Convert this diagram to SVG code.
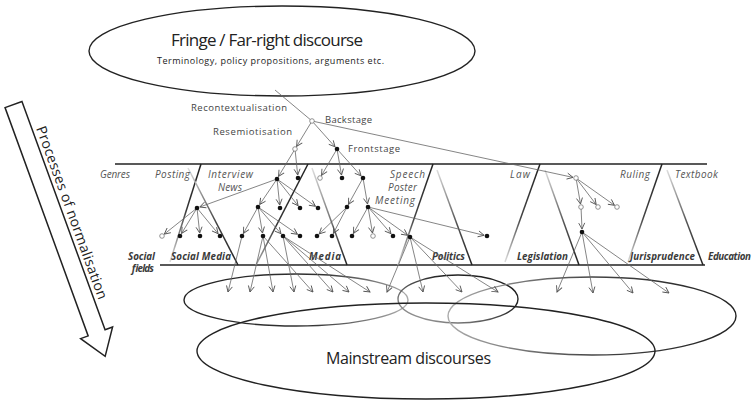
<svg xmlns="http://www.w3.org/2000/svg" width="753" height="402" viewBox="0 0 753 402">
<style>
text{font-family:"Open Sans","Liberation Sans",sans-serif;}
.lbl{font-size:9.5px;fill:#444;}
.gen{font-size:10px;font-style:italic;fill:#555;}
.fld{font-size:9.8px;font-style:italic;font-weight:bold;fill:#3a3a3a;}
.f{fill:#111;}
.h{fill:#fff;stroke:#777;stroke-width:0.8;}
.c line{stroke:#666;stroke-width:0.8;marker-end:url(#ah);}
.bar{stroke:#222;stroke-width:1.6;}
.ell{fill:none;stroke-width:1.4;}
</style>
<defs>
<marker id="ah" markerWidth="8" markerHeight="8" refX="7" refY="4" orient="auto" markerUnits="userSpaceOnUse"><path d="M1,1 L7,4 L1,7" fill="none" stroke="#555" stroke-width="0.9"/></marker>
<linearGradient id="gA1" gradientUnits="userSpaceOnUse" x1="201" y1="164" x2="170" y2="262"><stop offset="0" stop-color="#222"/><stop offset="0.45" stop-color="#333"/><stop offset="1" stop-color="#ddd"/></linearGradient>
<linearGradient id="gA2" gradientUnits="userSpaceOnUse" x1="188" y1="168" x2="238" y2="265"><stop offset="0" stop-color="#ddd"/><stop offset="0.55" stop-color="#444"/><stop offset="1" stop-color="#222"/></linearGradient>
<linearGradient id="gB1" gradientUnits="userSpaceOnUse" x1="308" y1="164" x2="256" y2="265"><stop offset="0" stop-color="#222"/><stop offset="0.6" stop-color="#333"/><stop offset="1" stop-color="#aaa"/></linearGradient>
<linearGradient id="gB2" gradientUnits="userSpaceOnUse" x1="312" y1="168" x2="347" y2="265"><stop offset="0" stop-color="#ddd"/><stop offset="0.6" stop-color="#666"/><stop offset="1" stop-color="#222"/></linearGradient>
<linearGradient id="gC1" gradientUnits="userSpaceOnUse" x1="433" y1="164" x2="398" y2="265"><stop offset="0" stop-color="#222"/><stop offset="0.55" stop-color="#444"/><stop offset="1" stop-color="#ddd"/></linearGradient>
<linearGradient id="gC2" gradientUnits="userSpaceOnUse" x1="437" y1="170" x2="472" y2="265"><stop offset="0" stop-color="#ddd"/><stop offset="0.55" stop-color="#555"/><stop offset="1" stop-color="#222"/></linearGradient>
<linearGradient id="gD1" gradientUnits="userSpaceOnUse" x1="540" y1="164" x2="505" y2="262"><stop offset="0" stop-color="#222"/><stop offset="0.55" stop-color="#444"/><stop offset="1" stop-color="#ddd"/></linearGradient>
<linearGradient id="gD2" gradientUnits="userSpaceOnUse" x1="545" y1="170" x2="579" y2="265"><stop offset="0" stop-color="#ddd"/><stop offset="0.55" stop-color="#555"/><stop offset="1" stop-color="#222"/></linearGradient>
<linearGradient id="gE1" gradientUnits="userSpaceOnUse" x1="662" y1="164" x2="628" y2="262"><stop offset="0" stop-color="#222"/><stop offset="0.55" stop-color="#444"/><stop offset="1" stop-color="#ddd"/></linearGradient>
<linearGradient id="gE2" gradientUnits="userSpaceOnUse" x1="667" y1="170" x2="703" y2="265"><stop offset="0" stop-color="#ddd"/><stop offset="0.55" stop-color="#555"/><stop offset="1" stop-color="#222"/></linearGradient>
<linearGradient id="eL" gradientUnits="userSpaceOnUse" x1="190" y1="275" x2="400" y2="326"><stop offset="0" stop-color="#222"/><stop offset="0.6" stop-color="#333"/><stop offset="1" stop-color="#aaa"/></linearGradient>
<linearGradient id="eM" gradientUnits="userSpaceOnUse" x1="440" y1="275" x2="420" y2="323"><stop offset="0" stop-color="#222"/><stop offset="1" stop-color="#999"/></linearGradient>
<linearGradient id="eR" gradientUnits="userSpaceOnUse" x1="450" y1="316" x2="735" y2="316"><stop offset="0" stop-color="#aaa"/><stop offset="0.5" stop-color="#444"/><stop offset="1" stop-color="#222"/></linearGradient>
</defs>

<!-- Processes of normalisation arrow -->
<g id="normalisation-arrow" transform="translate(13.5,104.5) rotate(70)">
<polygon points="0,-9 243,-9 243,-17 268,0 243,17 243,9 0,9" fill="#fff" stroke="#222" stroke-width="1.5" stroke-linejoin="miter"/>
<text x="30" y="-13" font-size="14" fill="#222" textLength="183">Processes of normalisation</text>
</g>

<!-- Top ellipse -->
<g id="fringe">
<ellipse cx="282" cy="51" rx="193" ry="45" class="ell" stroke="#222"/>
<text x="171" y="46" font-size="17" fill="#222" textLength="192">Fringe / Far-right discourse</text>
<text x="157" y="64" font-size="9" fill="#222" textLength="227">Terminology, policy propositions, arguments etc.</text>
</g>

<!-- Field bars and shapes -->
<g id="fields">
<line class="bar" x1="115" y1="164" x2="707" y2="164"/>
<line class="bar" x1="160" y1="265" x2="705" y2="265"/>
<line x1="201" y1="164" x2="170" y2="262" stroke="url(#gA1)" stroke-width="1.5"/>
<line x1="188" y1="168" x2="238" y2="265" stroke="url(#gA2)" stroke-width="1.5"/>
<line x1="308" y1="164" x2="256" y2="265" stroke="url(#gB1)" stroke-width="1.5"/>
<line x1="312" y1="168" x2="347" y2="265" stroke="url(#gB2)" stroke-width="1.5"/>
<line x1="433" y1="164" x2="398" y2="265" stroke="url(#gC1)" stroke-width="1.5"/>
<line x1="437" y1="170" x2="472" y2="265" stroke="url(#gC2)" stroke-width="1.5"/>
<line x1="540" y1="164" x2="505" y2="262" stroke="url(#gD1)" stroke-width="1.5"/>
<line x1="545" y1="170" x2="579" y2="265" stroke="url(#gD2)" stroke-width="1.5"/>
<line x1="662" y1="164" x2="628" y2="262" stroke="url(#gE1)" stroke-width="1.5"/>
<line x1="667" y1="170" x2="703" y2="265" stroke="url(#gE2)" stroke-width="1.5"/>
</g>

<!-- Labels -->
<g id="labels">
<text class="lbl" x="191" y="111" textLength="96">Recontextualisation</text>
<text class="lbl" x="325" y="123" textLength="47">Backstage</text>
<text class="lbl" x="213" y="135" textLength="79">Resemiotisation</text>
<text class="lbl" x="348" y="152" textLength="52">Frontstage</text>
<text class="gen" x="100" y="178" textLength="30">Genres</text>
<text class="gen" x="155" y="178" textLength="35">Posting</text>
<text class="gen" x="208" y="178" textLength="45">Interview</text>
<text class="gen" x="218" y="191" textLength="24">News</text>
<text class="gen" x="390" y="178" textLength="35">Speech</text>
<text class="gen" x="388" y="191" textLength="29">Poster</text>
<text class="gen" x="375" y="204" textLength="40">Meeting</text>
<text class="gen" x="510" y="178" textLength="20">Law</text>
<text class="gen" x="620" y="178" textLength="30">Ruling</text>
<text class="gen" x="675" y="178" textLength="43">Textbook</text>
<text class="fld" x="128" y="260" textLength="27">Social</text>
<text class="fld" x="131" y="272" textLength="22">fields</text>
<text class="fld" x="171" y="260" textLength="60">Social Media</text>
<text class="fld" x="309" y="260" textLength="32">Media</text>
<text class="fld" x="432" y="260" textLength="33">Politics</text>
<text class="fld" x="517" y="260" textLength="51">Legislation</text>
<text class="fld" x="630" y="260" textLength="65">Jurisprudence</text>
<text class="fld" x="708" y="260" textLength="43">Education</text>
</g>

<!-- Bottom ellipses -->
<g id="media-discourse"><ellipse cx="296" cy="300" rx="112" ry="26" class="ell" stroke="url(#eL)"/></g>
<g id="politics-discourse"><ellipse cx="458" cy="299" rx="60" ry="24" class="ell" stroke="url(#eM)"/></g>
<g id="law-discourse"><ellipse cx="592" cy="316" rx="144" ry="39" class="ell" stroke="url(#eR)"/></g>
<g id="mainstream">
<ellipse cx="426" cy="351" rx="229" ry="48" class="ell" stroke="#222"/>
<text x="326" y="364" font-size="16" fill="#222" textLength="165">Mainstream discourses</text>
</g>

<!-- Connectors -->
<g id="connectors" class="c">
<line x1="275" y1="90" x2="312" y2="121" style="marker-end:none"/>
<line x1="312" y1="121" x2="335" y2="146.8"/>
<line x1="312" y1="121" x2="296.6" y2="146.4"/>
<line x1="312" y1="121" x2="573" y2="177.4"/>
<line x1="337" y1="149" x2="321.5" y2="175.4"/>
<line x1="337" y1="149" x2="341.5" y2="175"/>
<line x1="337" y1="149" x2="361" y2="175.8"/>
<line x1="295" y1="149" x2="278.5" y2="176.4"/>
<line x1="295" y1="149" x2="297.7" y2="175"/>
<line x1="277" y1="179" x2="199.8" y2="207"/>
<line x1="277" y1="179" x2="259.7" y2="204.5"/>
<line x1="277" y1="179" x2="279.7" y2="205"/>
<line x1="277" y1="179" x2="298.1" y2="205.7"/>
<line x1="277" y1="179" x2="315.5" y2="206.3"/>
<line x1="197" y1="208" x2="164.3" y2="234.1"/>
<line x1="197" y1="208" x2="181.6" y2="233.4"/>
<line x1="197" y1="208" x2="199.7" y2="233"/>
<line x1="197" y1="208" x2="218.1" y2="233.7"/>
<line x1="258" y1="207" x2="243.4" y2="233.4"/>
<line x1="258" y1="207" x2="262.5" y2="233"/>
<line x1="258" y1="207" x2="281" y2="233.7"/>
<line x1="258" y1="207" x2="297.5" y2="234.3"/>
<line x1="363" y1="178" x2="348.4" y2="204.4"/>
<line x1="363" y1="178" x2="367.5" y2="204"/>
<line x1="347" y1="207" x2="319.2" y2="233.9"/>
<line x1="347" y1="207" x2="333.4" y2="233.3"/>
<line x1="368" y1="207" x2="353.4" y2="233.4"/>
<line x1="368" y1="207" x2="372.5" y2="233"/>
<line x1="368" y1="207" x2="391" y2="233.7"/>
<line x1="368" y1="207" x2="407.6" y2="235.3"/>
<line x1="368" y1="207" x2="484.1" y2="235.3"/>
<line x1="576" y1="178" x2="580.5" y2="204"/>
<line x1="576" y1="178" x2="596.2" y2="204.6"/>
<line x1="576" y1="178" x2="614.5" y2="205.3"/>
<line x1="581" y1="207" x2="582" y2="229"/>
<line x1="242" y1="236" x2="228" y2="292"/>
<line x1="263" y1="236" x2="250" y2="292"/>
<line x1="263" y1="236" x2="273" y2="292"/>
<line x1="263" y1="236" x2="313" y2="292"/>
<line x1="283" y1="236" x2="294" y2="292"/>
<line x1="283" y1="236" x2="333" y2="292"/>
<line x1="283" y1="236" x2="349" y2="292"/>
<line x1="283" y1="236" x2="370" y2="292"/>
<line x1="410" y1="237" x2="387" y2="292"/>
<line x1="410" y1="237" x2="423" y2="292"/>
<line x1="410" y1="237" x2="462" y2="292"/>
<line x1="410" y1="237" x2="498" y2="292"/>
<line x1="582" y1="232" x2="557" y2="292"/>
<line x1="582" y1="232" x2="593" y2="293"/>
<line x1="582" y1="232" x2="633" y2="293"/>
<line x1="582" y1="232" x2="669" y2="293"/>
</g>

<!-- Nodes -->
<g id="n-backstage"><circle class="h" cx="312" cy="121" r="2.3"/></g>
<g id="n-frontstage"><circle class="f" cx="337" cy="149" r="2.3"/></g>
<g id="n-resemiotised"><circle class="h" cx="295" cy="149" r="2.3"/></g>
<g id="n-law"><circle class="h" cx="576" cy="178" r="2.3"/></g>
<g id="n-f1"><circle class="h" cx="320" cy="178" r="2.3"/></g>
<g id="n-f2"><circle class="f" cx="342" cy="178" r="2.3"/></g>
<g id="n-f3"><circle class="f" cx="363" cy="178" r="2.3"/></g>
<g id="n-interview"><circle class="f" cx="277" cy="179" r="2.3"/></g>
<g id="n-r2"><circle class="f" cx="298" cy="178" r="2.3"/></g>
<g id="n-posting"><circle class="f" cx="197" cy="208" r="2.3"/></g>
<g id="n-m1"><circle class="f" cx="258" cy="207" r="2.3"/></g>
<g id="n-m2"><circle class="f" cx="280" cy="208" r="2.3"/></g>
<g id="n-m3"><circle class="f" cx="300" cy="208" r="2.3"/></g>
<g id="n-m4"><circle class="f" cx="318" cy="208" r="2.3"/></g>
<g id="n-p1"><circle class="f" cx="347" cy="207" r="2.3"/></g>
<g id="n-p2"><circle class="f" cx="368" cy="207" r="2.3"/></g>
<g id="n-s1"><circle class="h" cx="162" cy="236" r="2.3"/></g>
<g id="n-s2"><circle class="f" cx="180" cy="236" r="2.3"/></g>
<g id="n-s3"><circle class="f" cx="200" cy="236" r="2.3"/></g>
<g id="n-s4"><circle class="f" cx="220" cy="236" r="2.3"/></g>
<g id="n-ma"><circle class="f" cx="242" cy="236" r="2.3"/></g>
<g id="n-mb"><circle class="f" cx="263" cy="236" r="2.3"/></g>
<g id="n-mc"><circle class="f" cx="283" cy="236" r="2.3"/></g>
<g id="n-md"><circle class="f" cx="300" cy="236" r="2.3"/></g>
<g id="n-me"><circle class="f" cx="317" cy="236" r="2.3"/></g>
<g id="n-mf"><circle class="f" cx="332" cy="236" r="2.3"/></g>
<g id="n-pa"><circle class="f" cx="352" cy="236" r="2.3"/></g>
<g id="n-pb"><circle class="h" cx="373" cy="236" r="2.3"/></g>
<g id="n-pc"><circle class="f" cx="393" cy="236" r="2.3"/></g>
<g id="n-politics"><circle class="f" cx="410" cy="237" r="2.3"/></g>
<g id="n-pe"><circle class="f" cx="487" cy="236" r="2.3"/></g>
<g id="n-l1"><circle class="h" cx="581" cy="207" r="2.3"/></g>
<g id="n-l2"><circle class="h" cx="598" cy="207" r="2.3"/></g>
<g id="n-l3"><circle class="h" cx="617" cy="207" r="2.3"/></g>
<g id="n-legislation"><circle class="f" cx="582" cy="232" r="2.3"/></g>
</svg>
